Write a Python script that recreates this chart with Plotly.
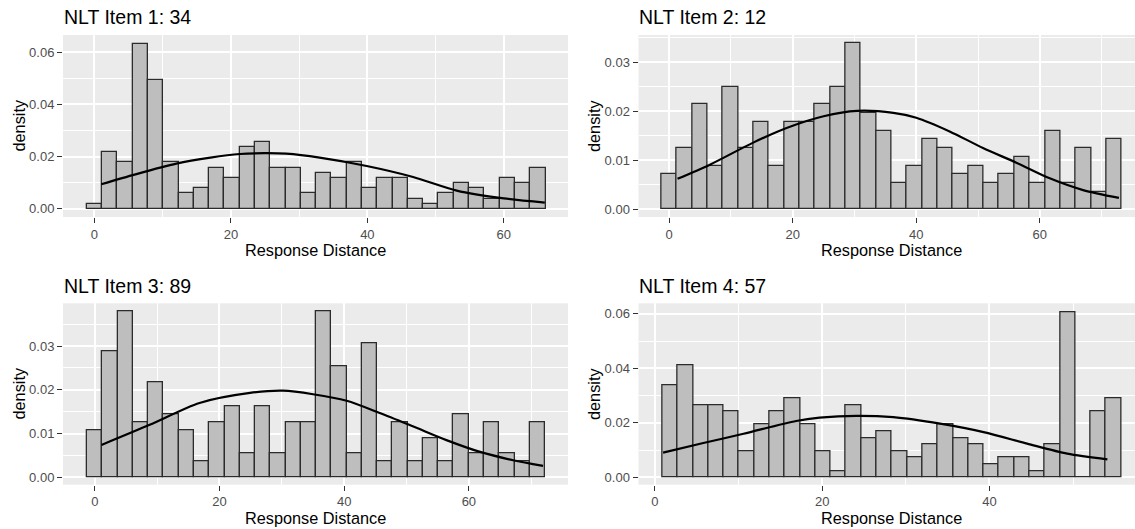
import numpy as np
import plotly.graph_objects as go

# ---------------- data ----------------
titles = ["NLT Item 1: 34", "NLT Item 2: 12", "NLT Item 3: 89", "NLT Item 4: 57"]
x_label = "Response Distance"
y_label = "density"

# histogram bins: left edge of first bin and bin width (30 bins each)
bin_start_1, bin_width_1 = -1.121, 2.241
bin_start_2, bin_width_2 = -1.241, 2.483
bin_start_3, bin_width_3 = -1.224, 2.448
bin_start_4, bin_width_4 = 0.914, 1.828

density_1 = [0.0020, 0.0217, 0.0178, 0.0632, 0.0494, 0.0178, 0.0059, 0.0079, 0.0158, 0.0118,
             0.0237, 0.0257, 0.0158, 0.0158, 0.0059, 0.0138, 0.0118, 0.0178, 0.0079, 0.0118,
             0.0118, 0.0039, 0.0020, 0.0059, 0.0099, 0.0079, 0.0039, 0.0118, 0.0099, 0.0158]
density_2 = [0.0071, 0.0125, 0.0214, 0.0089, 0.0249, 0.0125, 0.0178, 0.0089, 0.0178, 0.0178,
             0.0214, 0.0249, 0.0339, 0.0196, 0.0160, 0.0053, 0.0089, 0.0143, 0.0125, 0.0071,
             0.0089, 0.0053, 0.0071, 0.0107, 0.0053, 0.0160, 0.0053, 0.0125, 0.0036, 0.0143]
density_3 = [0.0108, 0.0289, 0.0379, 0.0126, 0.0217, 0.0145, 0.0108, 0.0036, 0.0126, 0.0163,
             0.0054, 0.0163, 0.0054, 0.0126, 0.0126, 0.0379, 0.0253, 0.0054, 0.0307, 0.0036,
             0.0126, 0.0036, 0.0090, 0.0036, 0.0145, 0.0054, 0.0126, 0.0054, 0.0036, 0.0126]
density_4 = [0.0339, 0.0412, 0.0266, 0.0266, 0.0242, 0.0097, 0.0194, 0.0242, 0.0291, 0.0194,
             0.0097, 0.0024, 0.0266, 0.0145, 0.0169, 0.0097, 0.0073, 0.0121, 0.0194, 0.0145,
             0.0121, 0.0048, 0.0073, 0.0073, 0.0024, 0.0121, 0.0605, 0.0000, 0.0242, 0.0291]

# fitted normal curves
curve_x_1 = [1.0, 6.0, 12.0, 17.0, 21.3, 25.0, 28.1, 33.0, 39.9, 46.7, 53.1, 60.0, 66.0]
curve_y_1 = [0.0094, 0.0132, 0.0173, 0.0196, 0.0210, 0.0213, 0.0211, 0.0196, 0.0164, 0.0122, 0.0070, 0.0040, 0.0024]
curve_x_2 = [1.35, 6.6, 13.6, 19.0, 25.0, 30.4, 36.3, 40.0, 45.4, 50.8, 56.2, 61.6, 67.0, 72.8]
curve_y_2 = [0.0062, 0.0091, 0.0136, 0.0166, 0.0190, 0.0201, 0.0197, 0.0187, 0.0159, 0.0125, 0.0095, 0.0063, 0.0039, 0.0023]
curve_x_3 = [1.07, 8.8, 16.8, 24.9, 30.2, 35.0, 40.4, 45.7, 51.1, 56.4, 61.8, 67.1, 71.9]
curve_y_3 = [0.0074, 0.0120, 0.0170, 0.0193, 0.0198, 0.0190, 0.0175, 0.0147, 0.0116, 0.0085, 0.0058, 0.0039, 0.0026]
curve_x_4 = [0.99, 5.8, 10.6, 16.9, 19.7, 24.1, 28.5, 34.1, 39.3, 44.5, 49.3, 54.1]
curve_y_4 = [0.0091, 0.0126, 0.0160, 0.0207, 0.0219, 0.0226, 0.0221, 0.0197, 0.0166, 0.0124, 0.0087, 0.0066]

# axis ticks
y_major_1, y_minor_1 = 0.02, 0.01
y_major_2, y_minor_2 = 0.01, 0.005
y_major_3, y_minor_3 = 0.01, 0.005
y_major_4, y_minor_4 = 0.02, 0.01
x_major, x_minor = 20, 10

# ---------------- layout constants ----------------
W, H = 1135, 529
BG = "#EBEBEB"
FONT = "Liberation Sans, Arial, sans-serif"

panels = [
    dict(bs=bin_start_1, bw=bin_width_1, d=density_1, cx=curve_x_1, cy=curve_y_1,
         xr=[-4.6, 69.4], yr=[-0.0031, 0.0665], ym=y_major_1, yn=y_minor_1,
         px=(63, 568), py=(35, 217)),
    dict(bs=bin_start_2, bw=bin_width_2, d=density_2, cx=curve_x_2, cy=curve_y_2,
         xr=[-4.96, 75.4], yr=[-0.0016, 0.0356], ym=y_major_2, yn=y_minor_2,
         px=(638.5, 1135), py=(35, 217)),
    dict(bs=bin_start_3, bw=bin_width_3, d=density_3, cx=curve_x_3, cy=curve_y_3,
         xr=[-5.1, 75.9], yr=[-0.0017, 0.0398], ym=y_major_3, yn=y_minor_3,
         px=(63, 568), py=(303.3, 484.7)),
    dict(bs=bin_start_4, bw=bin_width_4, d=density_4, cx=curve_x_4, cy=curve_y_4,
         xr=[-1.95, 57.4], yr=[-0.0027, 0.0639], ym=y_major_4, yn=y_minor_4,
         px=(638.5, 1135), py=(303.3, 484.7)),
]

fig = go.Figure()
layout = dict(
    width=W, height=H, margin=dict(l=0, r=0, t=0, b=0),
    paper_bgcolor="white", plot_bgcolor=BG, showlegend=False,
    font=dict(family=FONT, color="black"),
    bargap=0,
)
annotations = []

for i, p in enumerate(panels):
    k = "" if i == 0 else str(i + 1)
    xa, ya = "x" + k, "y" + k
    d = np.array(p["d"])
    centers = p["bs"] + p["bw"] * (np.arange(len(d)) + 0.5)
    fig.add_trace(go.Bar(
        x=centers, y=d, width=p["bw"], xaxis=xa, yaxis=ya,
        marker=dict(color="#BEBEBE", line=dict(color="#2B2B2B", width=1.3)),
        hoverinfo="skip"))
    fig.add_trace(go.Scatter(
        x=p["cx"], y=p["cy"], mode="lines", xaxis=xa, yaxis=ya,
        line=dict(color="black", width=2.2, shape="spline", smoothing=0.8),
        hoverinfo="skip"))

    x0, x1 = p["px"]
    y0, y1 = p["py"]
    xdom = [x0 / W, min(x1 / W, 1.0)]
    ydom = [1 - y1 / H, 1 - y0 / H]
    common = dict(
        showgrid=True, gridcolor="white", gridwidth=1.6,
        zeroline=False, showline=False,
        ticks="outside", ticklen=5, tickwidth=1.1, tickcolor="#333333",
        tickfont=dict(family=FONT, size=13, color="#4D4D4D"),
        fixedrange=True,
    )
    layout["xaxis" + k] = dict(
        common, domain=xdom, range=p["xr"], anchor=ya,
        tickmode="linear", tick0=0, dtick=x_major,
        minor=dict(tick0=0, dtick=x_minor, showgrid=True, gridcolor="white", gridwidth=0.8),
    )
    layout["yaxis" + k] = dict(
        common, domain=ydom, range=p["yr"], anchor=xa,
        tickmode="linear", tick0=0, dtick=p["ym"], tickformat=".2f",
        minor=dict(tick0=0, dtick=p["yn"], showgrid=True, gridcolor="white", gridwidth=0.8),
    )

    # panel title
    annotations.append(dict(
        text=titles[i], xref="paper", yref="paper", x=(x0 - 1.5) / W, y=1 - (y0 - 17.5) / H,
        xanchor="left", yanchor="middle", showarrow=False,
        font=dict(family=FONT, size=19.5, color="black")))
    # y axis title
    annotations.append(dict(
        text=y_label, xref="paper", yref="paper", x=(x0 - 44.5) / W, y=1 - (y0 + y1) / 2 / H,
        xanchor="center", yanchor="middle", textangle=-90, showarrow=False,
        font=dict(family=FONT, size=16.3, color="black")))
    # x axis title (centered on the uncropped panel)
    full_x1 = x1 if x1 < W else 1145
    annotations.append(dict(
        text=x_label, xref="paper", yref="paper", x=(x0 + full_x1) / 2 / W, y=1 - (y1 + 33) / H,
        xanchor="center", yanchor="middle", showarrow=False,
        font=dict(family=FONT, size=16.3, color="black")))

layout["annotations"] = annotations
fig.update_layout(**layout)
fig.write_html("out.html")
